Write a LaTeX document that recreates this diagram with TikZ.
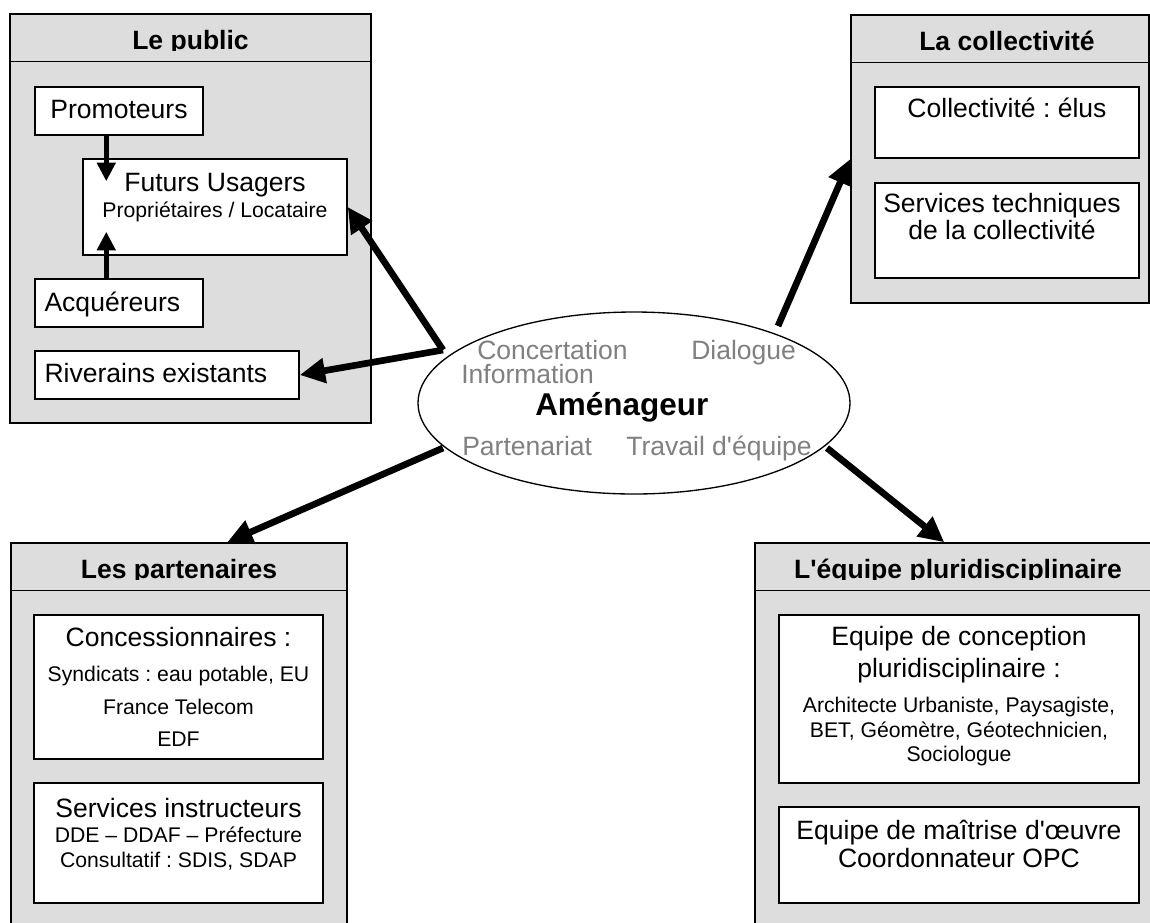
\documentclass[tikz,border=0pt]{standalone}
\usepackage{fontspec}
\setmainfont{Liberation Sans}
\usepackage{tikz}
\usetikzlibrary{arrows.meta}
\usetikzlibrary{shapes.geometric}
\usetikzlibrary{fit}
\usetikzlibrary{calc}
\definecolor{gris}{HTML}{DDDDDD}
\definecolor{grismot}{HTML}{808080}
\newcommand{\grand}{\fontsize{19.9}{21}\selectfont}
\frenchspacing
\tikzset{cadre/.style = {draw, fill = gris, line width = 1.1pt, inner sep = 0}}
\tikzset{boite/.style = {draw, fill = white, line width = 1.1pt, inner sep = 0}}
\tikzset{trait/.style = {line width = 1.1pt}}
\tikzset{bulle/.style = {ellipse, draw, fill = white, line width = 1pt, inner sep = 0,
    minimum width = 324pt, minimum height = 136.5pt}}
\tikzset{texte/.style = {anchor = base, align = center, inner sep = 0, font = \grand}}
\tikzset{titre/.style = {anchor = base, inner sep = 0, font = \grand\bfseries}}
\tikzset{mot/.style = {anchor = base west, inner sep = 0, text = grismot, font = \grand}}
\tikzset{fleche/.style = {line width = 5pt, -{Triangle[length = 19pt, width = 18pt]}}}
\tikzset{petitefleche/.style = {line width = 3.75pt, -{Triangle[length = 14pt, width = 13.5pt]}}}

\begin{document}
\begin{tikzpicture}[x = 0.75pt, y = -0.75pt]
      \useasboundingbox (0,0) rectangle (1150,922);
      \clip (0,0) rectangle (1150,922);
      \node [cadre, fit = {(10,14) (371,423)}] (public) {};
      \node [cadre, fit = {(851,15) (1149,303)}] (collectivite) {};
      \node [cadre, fit = {(11,543) (347,940)}] (partenaires) {};
      \node [cadre, fit = {(755,543) (1161,940)}] (equipe) {};
      \foreach \p/\d/\t in {public/0/Le public, collectivite/7/La collectivité,
          partenaires/0/Les partenaires, equipe/0/L\textquotesingle équipe pluridisciplinaire} {
        \begin{scope}
          \clip (\p.north west) rectangle ($(\p.north east)+(0,37.5)$);
          \node [titre] (titre-\p) at ($(\p.north)+(\d,36.5)$) {\t};
        \end{scope}
        \draw [trait] ($(\p.north west)+(0,48)$) -- ($(\p.north east)+(0,48)$);
      }
      \node [boite, fit = {(35,87) (203,135)}] (promoteurs) {};
      \node [boite, fit = {(83,159) (347,255)}] (usagers) {};
      \node [boite, fit = {(35,279) (203,327)}] (acquereurs) {};
      \node [boite, fit = {(35,351) (299,399)}] (riverains) {};
      \node [boite, fit = {(875,87) (1139,158)}] (elus) {};
      \node [boite, fit = {(875,183) (1139,278)}] (services) {};
      \node [boite, fit = {(34,615) (323,759)}] (concession) {};
      \node [boite, fit = {(34,783) (323,903)}] (instructeurs) {};
      \node [boite, fit = {(779,615) (1139,783)}] (conception) {};
      \node [boite, fit = {(779,807) (1139,903)}] (maitrise) {};
      \node [texte] (t-promoteurs) at ($(promoteurs.north)+(0,32)$) {Promoteurs};
      \node [texte, font = \fontsize{15.9}{19.5}\selectfont] (t-usagers) at ($(usagers.north)+(0,59)$)
        {{\grand Futurs Usagers}\\Propriétaires / Locataire};
      \node [texte, anchor = base west] (t-acquereurs) at ($(acquereurs.north west)+(10,33)$) {Acquéreurs};
      \node [texte, anchor = base west] (t-riverains) at ($(riverains.north west)+(10,32)$) {Riverains existants};
      \node [texte] (t-elus) at ($(elus.north)+(0,31)$) {Collectivité : élus};
      \node [texte, font = \fontsize{19.9}{20.25}\selectfont] (t-services) at ($(services.north)+(-5,57)$)
        {Services techniques\\de la collectivité};
      \node [texte, font = \fontsize{15.9}{24}\selectfont] (t-concession) at ($(concession.north)+(0,132)$)
        {{\grand Concessionnaires :}\\[2.25pt]Syndicats : eau potable, EU\\[0.75pt]France Telecom\\EDF};
      \node [texte, font = \fontsize{15.9}{18.75}\selectfont] (t-instructeurs) at ($(instructeurs.north)+(0,85)$)
        {{\grand Services instructeurs}\\DDE – DDAF – Préfecture\\Consultatif : SDIS, SDAP};
      \node [texte, font = \fontsize{15.9}{18}\selectfont] (t-conception) at ($(conception.north)+(0,147)$)
        {{\grand Equipe de conception}\\[4.5pt]{\grand pluridisciplinaire :}\\[8.25pt]Architecte Urbaniste, Paysagiste,\\[0.75pt]BET, Géomètre, Géotechnicien,\\Sociologue};
      \node [texte, font = \fontsize{19.9}{21}\selectfont] (t-maitrise) at ($(maitrise.north)+(0,61)$)
        {Equipe de maîtrise d\textquotesingle œuvre\\Coordonnateur OPC};
      \node [bulle] (amen) at (634,403) {};
      \foreach \x/\y/\t [count = \i] in {-157/-44/Concertation, 57/-44/Dialogue, -173/-20/Information,
          -172/52/Partenariat, -8/52/Travail d\textquotesingle équipe} {
        \node [mot] (mot\i) at ($(amen.center)+(\x,\y)$) {\t};
      }
      \node [mot, text = black, font = \fontsize{23.6}{26}\selectfont\bfseries] (t-amen)
        at ($(amen.center)+(-99,12)$) {Aménageur};
      \coordinate (vers-public) at ($(amen.center)+(-191,-53)$);
      \coordinate (vers-collectivite) at ($(amen.center)+(144,-77)$);
      \coordinate (vers-partenaires) at ($(amen.center)+(-191,45)$);
      \coordinate (vers-equipe) at ($(amen.center)+(193,45)$);
      \draw [fleche] (vers-public) -- (usagers.east);
      \draw [fleche] (vers-public) -- (riverains.east);
      \draw [fleche] (vers-collectivite) -- (collectivite.west);
      \draw [fleche] (vers-partenaires) -- ($(partenaires.north west)+(217,0)$);
      \draw [fleche] (vers-equipe) -- ($(equipe.north west)+(190,0)$);
      \draw [petitefleche] ($(promoteurs.south west)+(72,0)$) -- ($(usagers.north west)+(24,23)$);
      \draw [petitefleche] ($(acquereurs.north west)+(72,0)$) -- ($(usagers.south west)+(24,-24)$);
\end{tikzpicture}
\end{document}
